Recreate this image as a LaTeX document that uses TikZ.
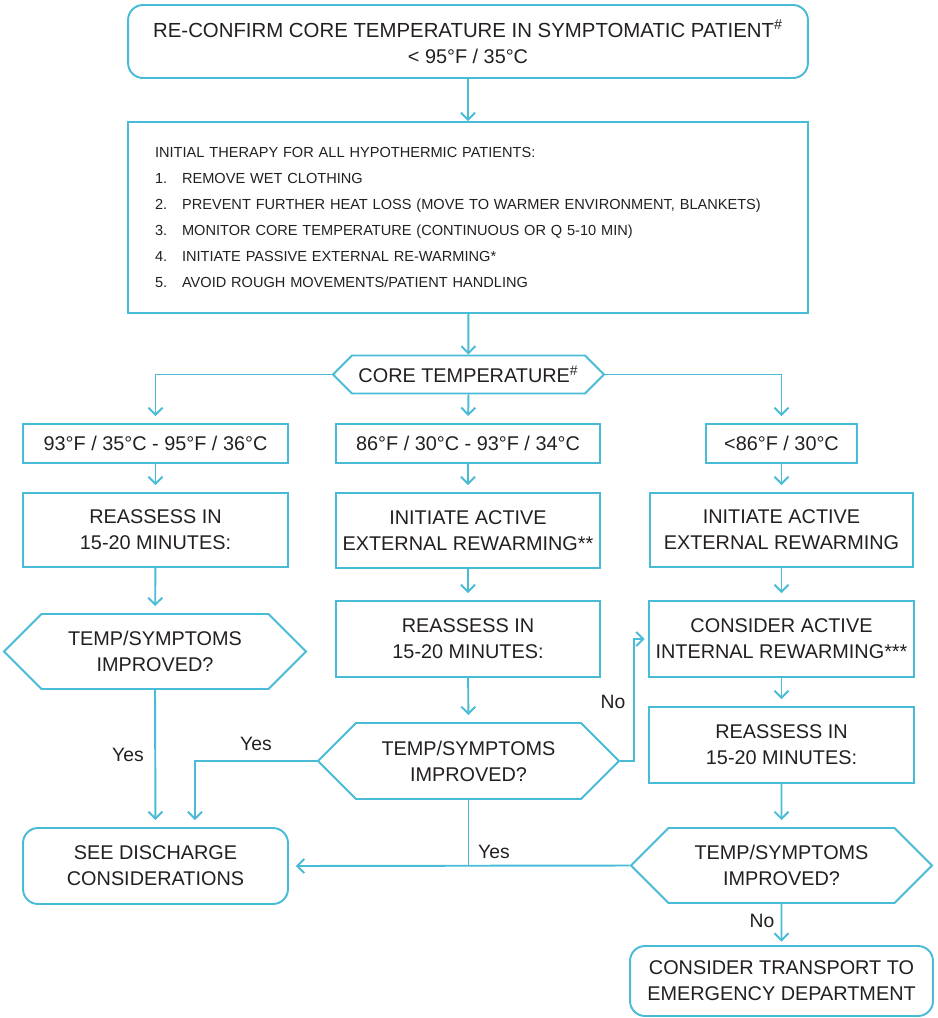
\documentclass[tikz,border=0pt]{standalone}
\usepackage{fontspec}
\setmainfont{Liberation Sans}
\usetikzlibrary{shapes.symbols,arrows.meta}

\definecolor{flowblue}{HTML}{48BBD7}
\definecolor{flowtext}{HTML}{231F20}
\newcommand\boxfont{\fontsize{11.3}{14.7}\selectfont}
\newcommand\listfont{\fontsize{8.3}{14.9}\selectfont}
\newcommand\lblfont{\fontsize{11}{13}\selectfont}

\tikzset{
  box/.style={draw=flowblue, line width=1.1pt, text=flowtext, align=center, inner sep=0pt, font=\boxfont},
  roundbox/.style={box, rounded corners=0.3cm},
  hexbox/.style={box, signal, signal to=west and east},
  arr/.style={draw=flowblue, line width=1.1pt, -{Straight Barb[length=4pt,width=8pt]}, shorten >=4pt},
  wire/.style={draw=flowblue, line width=1.1pt},
  lbl/.style={text=flowtext, font=\lblfont}
}

\begin{document}
\begin{tikzpicture}[x=0.02cm, y=-0.02cm]
\useasboundingbox (0,0) rectangle (937,1018);

% top of the chart
\node[roundbox, minimum width=13.6cm, minimum height=1.46cm] (confirm) at (468,41.5)
  {\fontsize{11.6}{14.7}\selectfont RE-CONFIRM CORE TEMPERATURE IN SYMPTOMATIC PATIENT\textsuperscript{\#}\\ < 95°F / 35°C};
\node[box, minimum width=13.6cm, minimum height=3.82cm, text width=12.52cm, align=left, font=\listfont] (initial) at (468,217.5)
  {INITIAL THERAPY FOR ALL HYPOTHERMIC PATIENTS:\\
   \makebox[0.54cm][l]{1.}REMOVE WET CLOTHING\\
   \makebox[0.54cm][l]{2.}\mbox{PREVENT FURTHER HEAT LOSS (MOVE TO WARMER ENVIRONMENT, BLANKETS)}\\
   \makebox[0.54cm][l]{3.}MONITOR CORE TEMPERATURE (CONTINUOUS OR Q 5-10 MIN)\\
   \makebox[0.54cm][l]{4.}INITIATE PASSIVE EXTERNAL RE-WARMING*\\
   \makebox[0.54cm][l]{5.}AVOID ROUGH MOVEMENTS/PATIENT HANDLING};
\node[hexbox, minimum width=5.42cm, minimum height=0.76cm] (core) at (468.5,374.5)
  {CORE TEMPERATURE\textsuperscript{\#}};

% temperature ranges
\node[box, minimum width=5.3cm, minimum height=0.78cm] (mild) at (155.5,443.5) {93°F / 35°C - 95°F / 36°C};
\node[box, minimum width=5.28cm, minimum height=0.78cm] (moderate) at (468,443.5) {86°F / 30°C - 93°F / 34°C};
\node[box, minimum width=3.02cm, minimum height=0.78cm] (severe) at (781.5,443.5) {<86°F / 30°C};

% left column
\node[box, minimum width=5.3cm, minimum height=1.48cm] (reassessL) at (155.5,530) {REASSESS IN\\ 15-20 MINUTES:};
\node[hexbox, minimum width=6.04cm, minimum height=1.5cm] (improvedL) at (155,651.5) {TEMP/SYMPTOMS\\ IMPROVED?};
\node[roundbox, minimum width=5.3cm, minimum height=1.52cm] (discharge) at (155.5,866) {SEE DISCHARGE\\ CONSIDERATIONS};

% middle column
\node[box, minimum width=5.28cm, minimum height=1.5cm] (activeM) at (468,530.5) {INITIATE ACTIVE\\ EXTERNAL REWARMING**};
\node[box, minimum width=5.28cm, minimum height=1.52cm] (reassessM) at (468,639) {REASSESS IN\\ 15-20 MINUTES:};
\node[hexbox, minimum width=6.02cm, minimum height=1.52cm] (improvedM) at (468.5,761) {TEMP/SYMPTOMS\\ IMPROVED?};

% right column
\node[box, minimum width=5.26cm, minimum height=1.48cm] (activeR) at (781.5,530) {INITIATE ACTIVE\\ EXTERNAL REWARMING};
\node[box, minimum width=5.3cm, minimum height=1.52cm] (internal) at (781.5,639) {CONSIDER ACTIVE\\ INTERNAL REWARMING***};
\node[box, minimum width=5.3cm, minimum height=1.52cm] (reassessR) at (781.5,745) {REASSESS IN\\ 15-20 MINUTES:};
\node[hexbox, minimum width=6.02cm, minimum height=1.5cm] (improvedR) at (781.5,865.5) {TEMP/SYMPTOMS\\ IMPROVED?};
\node[roundbox, minimum width=6.06cm, minimum height=1.4cm] (transport) at (781.5,981) {CONSIDER TRANSPORT TO\\ EMERGENCY DEPARTMENT};

% connectors
\draw[arr, shorten >=0pt] (confirm) -- (initial);
\draw[arr, shorten >=0pt] (initial) -- (core);
\draw[arr] (core.west) -| (mild.north);
\draw[arr] (core.south) -- (moderate.north);
\draw[arr] (core.east) -| (severe.north);
\draw[arr] (mild) -- (reassessL);
\draw[arr] (reassessL) -- (improvedL);
\draw[arr] (improvedL.south) -- (discharge.north);
\draw[arr] (moderate) -- (activeM);
\draw[arr] (activeM) -- (reassessM);
\draw[arr] (reassessM) -- (improvedM);
\draw[arr] (improvedM.west) -| ([xshift=0.79cm]discharge.north);
\draw[arr, shorten >=2pt] (improvedM.east) -- ++(14,0) |- (internal.west);
\draw[wire] (improvedM.south) -- (improvedM.south |- discharge.east);
\draw[arr] (improvedR.west) -- (discharge.east);
\draw[arr] (severe) -- (activeR);
\draw[arr] (activeR) -- (internal);
\draw[arr] (internal) -- (reassessR);
\draw[arr] (reassessR) -- (improvedR);
\draw[arr, shorten >=2pt] (improvedR) -- (transport);

% labels
\node[lbl] (yesL) at (128,755) {Yes};
\node[lbl] (yesM) at (256,744) {Yes};
\node[lbl] (yesB) at (494,852) {Yes};
\node[lbl] (noM) at (613,702) {No};
\node[lbl] (noR) at (762,921) {No};
\end{tikzpicture}
\end{document}
